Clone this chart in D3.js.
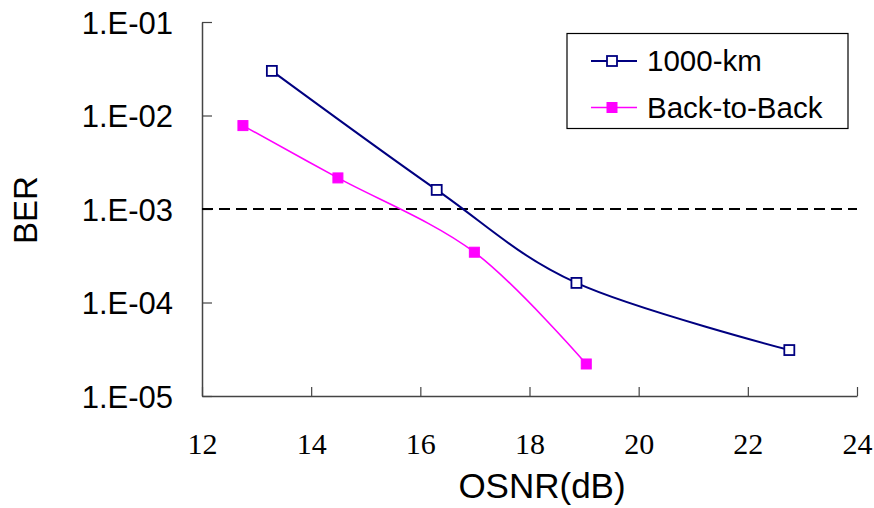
<!DOCTYPE html>
<html>
<head>
<meta charset="utf-8">
<script src="https://cdn.jsdelivr.net/npm/d3@7"></script>
<style>
  body { margin: 0; background: #fff; }
  text { font-family: "Liberation Sans", Arial, sans-serif; fill: #000; }
</style>
</head>
<body>
<div id="container"></div>
<script>
const osnrKm = [13.28, 16.3, 18.86, 22.76];
const berKm = [3.0e-2, 1.6e-3, 1.62e-4, 3.1e-5];
const osnrB2B = [12.75, 14.49, 16.99, 19.04];
const berB2B = [7.8e-3, 2.15e-3, 3.45e-4, 2.2e-5];
const xTicks = [12, 14, 16, 18, 20, 22, 24];
const yTicks = [1e-1, 1e-2, 1e-3, 1e-4, 1e-5];
const yTickLabels = ["1.E-01", "1.E-02", "1.E-03", "1.E-04", "1.E-05"];
const threshold = 1e-3;
const seriesNames = ["1000-km", "Back-to-Back"];

const W = 874, H = 508;
const svg = d3.select("#container").append("svg")
  .attr("width", W).attr("height", H);

const x = d3.scaleLinear().domain([12, 24]).range([202, 857]);
const y = d3.scaleLog().domain([1e-5, 1e-1]).range([396, 22]);

const series = [
  { name: seriesNames[0], color: "#000080", filled: false, width: 2,
    data: osnrKm.map((v, i) => ({ x: v, y: berKm[i] })) },
  { name: seriesNames[1], color: "#ff00ff", filled: true, width: 1.6,
    data: osnrB2B.map((v, i) => ({ x: v, y: berB2B[i] })) }
];

// Axes (ticks point inward)
const xAxis = svg.append("g")
  .attr("transform", `translate(0,${y(1e-5)})`)
  .call(d3.axisBottom(x).tickValues(xTicks).tickSizeInner(-9).tickSizeOuter(0).tickFormat(d3.format("d")));
xAxis.select(".domain").attr("stroke", "#444").attr("stroke-width", 1.5);
xAxis.selectAll(".tick line").attr("stroke", "#444").attr("stroke-width", 1.2);
xAxis.selectAll(".tick text")
  .attr("y", 58).attr("dy", 0)
  .style("font-family", "'Liberation Serif', 'DejaVu Serif', serif")
  .style("font-size", "30px")
  .attr("fill", "#000");

const yAxis = svg.append("g")
  .attr("transform", `translate(${x(12)},0)`)
  .call(d3.axisLeft(y).tickValues(yTicks).tickSizeInner(-10).tickSizeOuter(0)
    .tickFormat((d, i) => yTickLabels[i]));
yAxis.select(".domain").attr("stroke", "#444").attr("stroke-width", 1.5);
yAxis.selectAll(".tick text")
  .attr("x", -29).attr("dy", "0.36em")
  .style("font-size", "31px")
  .attr("fill", "#000");
yAxis.selectAll(".tick line").attr("stroke", "#444").attr("stroke-width", 1.2);

// Threshold dashed line
svg.append("line")
  .attr("x1", x(12)).attr("x2", x(24))
  .attr("y1", y(threshold)).attr("y2", y(threshold))
  .attr("stroke", "#000").attr("stroke-width", 1.8)
  .attr("stroke-dasharray", "11,6");

// Lines
const line = d3.line()
  .x(d => x(d.x)).y(d => y(d.y))
  .curve(d3.curveCardinal.tension(0));

series.forEach(s => {
  svg.append("path")
    .datum(s.data)
    .attr("fill", "none")
    .attr("stroke", s.color)
    .attr("stroke-width", s.width)
    .attr("d", line);

  svg.selectAll(null)
    .data(s.data)
    .enter().append("rect")
    .attr("x", d => x(d.x) - 5)
    .attr("y", d => y(d.y) - 5)
    .attr("width", 10).attr("height", 10)
    .attr("fill", s.filled ? s.color : "#fff")
    .attr("stroke", s.color)
    .attr("stroke-width", s.filled ? 1 : 1.8);
});

// Axis titles
svg.append("text")
  .attr("x", 542).attr("y", 498)
  .attr("text-anchor", "middle")
  .style("font-size", "35px")
  .text("OSNR(dB)");

svg.append("text")
  .attr("transform", "translate(37,210) rotate(-90)")
  .attr("text-anchor", "middle")
  .style("font-size", "33px")
  .text("BER");

// Legend
const legend = svg.append("g");
legend.append("rect")
  .attr("x", 567).attr("y", 33.5)
  .attr("width", 281).attr("height", 95)
  .attr("fill", "#fff").attr("stroke", "#000").attr("stroke-width", 1.2);

series.forEach((s, i) => {
  const ly = 61 + i * 46.5;
  const g = legend.append("g");
  g.append("line")
    .attr("x1", 591).attr("x2", 637)
    .attr("y1", ly).attr("y2", ly)
    .attr("stroke", s.color).attr("stroke-width", s.width);
  g.append("rect")
    .attr("x", 612 - 5).attr("y", ly - 5)
    .attr("width", 10).attr("height", 10)
    .attr("fill", s.filled ? s.color : "#fff")
    .attr("stroke", s.color)
    .attr("stroke-width", s.filled ? 1 : 1.8);
  g.append("text")
    .attr("x", 647).attr("y", ly + 10)
    .style("font-size", "29.5px")
    .text(s.name);
});
</script>
</body>
</html>
